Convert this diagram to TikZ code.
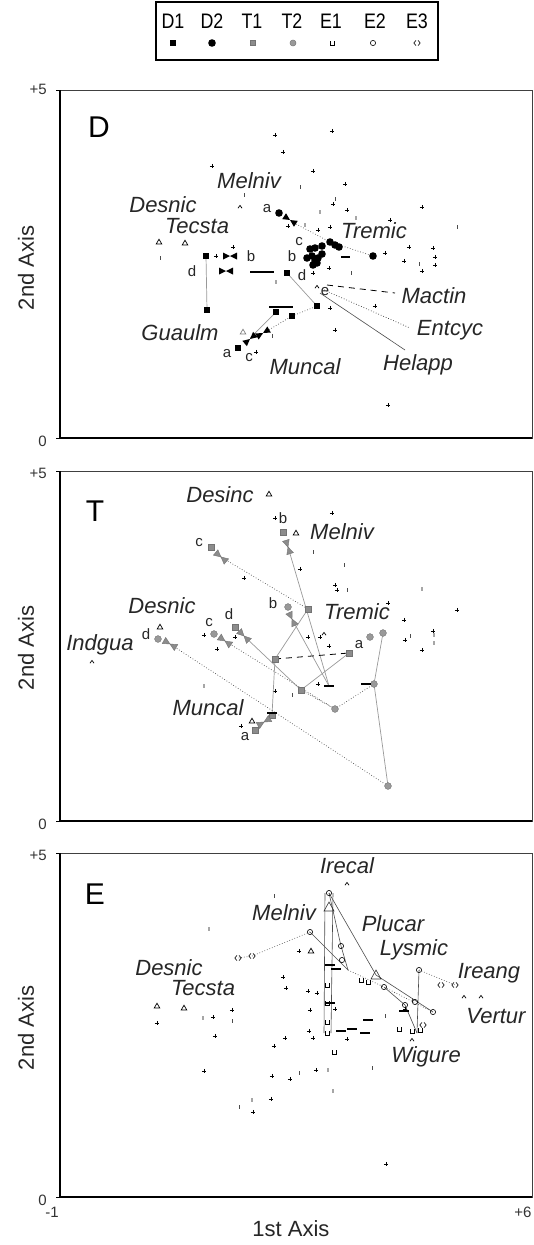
\documentclass[tikz,border=0pt]{standalone}
\usepackage{fontspec}
\setmainfont{Liberation Sans}
\newcommand\lgtxt[1]{\scalebox{0.85}[1]{#1}}
\tikzset{
 lbl/.style={font=\fontsize{22}{24}\selectfont\itshape, inner sep=0pt, text=black!85},
 sml/.style={font=\fontsize{15}{16}\selectfont, inner sep=0pt, text=black!85},
 tkl/.style={font=\fontsize{15}{16}\selectfont, inner sep=0pt, text=black!80},
 axt/.style={font=\fontsize{22}{24}\selectfont, inner sep=0pt, text=black!85},
 pnl/.style={font=\fontsize{30}{32}\selectfont, inner sep=0pt},
 leg/.style={font=\fontsize{21}{22}\selectfont, inner sep=0pt},
 glin/.style={draw=black!40, line width=0.7pt},
 dlin/.style={draw=black!70, line width=0.7pt, dotted},
 dshlin/.style={draw=black, line width=0.8pt, dash pattern=on 6pt off 5pt},
 frm/.style={draw=black!75, line width=0.8pt},
 cr/.pic={\draw[line width=0.7pt] (-2.2,0)--(2.2,0) (0,-2.2)--(0,2.2);},
 btk/.pic={\draw[line width=0.8pt, black!70] (0,-1.8)--(0,1.8);},
 gtk/.pic={\draw[line width=1.3pt, black!35] (0,-2)--(0,2);},
 bsq/.pic={\fill (-3.4,-3.4) rectangle (3.4,3.4);},
 bci/.pic={\fill (0,0) circle (3.8);},
 gsq/.pic={\filldraw[fill=black!45, draw=black!55] (-3,-3) rectangle (3,3);},
 gci/.pic={\filldraw[fill=black!40, draw=black!55] (0,0) circle (3.4);},
 otri/.pic={\draw[line width=0.7pt] (0,-2.8)--(2.8,2)--(-2.8,2)--cycle;},
 gtri/.pic={\draw[line width=0.7pt, black!50] (0,-2.8)--(2.8,2)--(-2.8,2)--cycle;},
 bigtri/.pic={\draw[line width=0.6pt, black!80] (0,-5)--(5,4)--(-5,4)--cycle;},
 crt/.pic={\draw[line width=0.7pt] (-2,1.2)--(0,-1.6)--(2,1.2);},
 bow/.pic={\fill (-7,-3.5)--(0,0)--(-7,3.5)--cycle; \fill (7,-3.5)--(0,0)--(7,3.5)--cycle;},
 gbow/.pic={\filldraw[fill=black!45, draw=black!55] (-7,-3.5)--(0,0)--(-7,3.5)--cycle (7,-3.5)--(0,0)--(7,3.5)--cycle;},
 eone/.pic={\draw[line width=0.6pt] (-2.2,-2)--(-2.2,2)--(2.2,2)--(2.2,-2);},
 etwo/.pic={\draw[line width=0.6pt] (0,0) circle (2.6);},
 ethr/.pic={\draw[line width=0.6pt] (-1,-2.6)--(-3.2,0)--(-1,2.6) (1,-2.6)--(3.2,0)--(1,2.6);},
 bdash/.pic={\draw[line width=1.2pt] (-5,0)--(5,0);},
}
\begin{document}
\begin{tikzpicture}[x=1pt,y=-1pt]
\useasboundingbox (0,0) rectangle (534,1245);

% ---------------- legend ----------------
\draw[line width=1.1pt] (156,2) rectangle (438,60);
\foreach \t/\x in {D1/173,D2/212,T1/252,T2/292,E1/331,E2/375,E3/417}
  \node[leg] (leg\t) at (\x,21) {\lgtxt{\t}};
\pic at (173,43) {bsq};
\pic at (212,43) {bci};
\pic[scale=0.8] at (253,43) {gsq};
\pic[scale=0.9] at (293,43) {gci};
\pic at (332,43) {eone};
\pic at (373,43) {etwo};
\pic at (417,43) {ethr};

% ---------------- frames ----------------
\foreach \top/\bot/\n in {90/438/D,471/821/T,853/1197/E}{
  \draw[frm] (60,\top) rectangle (532,\bot);
  \draw[line width=1.1pt] (60,\top)--(60,\bot)--(532,\bot);
  \draw[line width=0.8pt] (56,\top)--(60,\top) (56,\bot)--(60,\bot);
}
\draw[line width=2pt] (60,1197)--(532,1197);
\node[tkl, anchor=east] (pD) at (47,89) {+5};
\node[tkl, anchor=east] (zD) at (47,441) {0};
\node[tkl, anchor=east] (pT) at (47,473) {+5};
\node[tkl, anchor=east] (zT) at (47,824) {0};
\node[tkl, anchor=east] (pE) at (47,855) {+5};
\node[tkl, anchor=east] (zE) at (47,1200) {0};
\node[tkl] (xm) at (52,1212) {-1};
\node[tkl] (xp) at (523,1212) {+6};
\node[axt] (xt) at (291,1229) {1st Axis};
\node[axt, rotate=90] (yD) at (26,268) {2nd Axis};
\node[axt, rotate=90] (yT) at (26,648) {2nd Axis};
\node[axt, rotate=90] (yE) at (26,1028) {2nd Axis};
\node[pnl] (nD) at (99,127) {D};
\node[pnl] (nT) at (95,511) {T};
\node[pnl] (nE) at (95,894) {E};

% =============== PANEL D ===============
\foreach \x/\y in {275/135,332/131,283/152,212/166,313/171,345/184,333/204,347/210,422/207,288/226,318/230,330/227,390/220,233/247,385/253,409/247,433/248,404/261,435/257,435/265,422/271,329/268,313/273,216/256,330/308,335/330,375/306,388/405,256/352}
  \pic at (\x,\y) {cr};
\foreach \x/\y in {300/187,244/195,335/199,457/227,160/258,351/273,419/264,272/336}
  \pic at (\x,\y) {btk};
\foreach \x/\y in {356/218,276/282,305/225,320/212}
  \pic at (\x,\y) {gtk};
\pic at (159,242) {otri};
\pic at (185,243) {otri};
\pic at (243,332) {gtri};
\pic at (240,207) {crt};
\pic at (317,287) {crt};
% lines
\draw[glin] (206,256)--(207,310);
\draw[glin] (287,273)--(317,306);
\draw[glin] (250,338)--(276,312);
\draw[line width=1.2pt] (250,272)--(274,272);
\draw[line width=1.6pt] (269,307)--(293,307);
\draw[line width=1.2pt] (341,257)--(350,257);
\draw[dlin] (296,224)--(330,242)--(373,256);
\draw[dlin] (262,334)--(292,316)--(317,306);
\draw[dshlin] (327,285)--(395,293);
\draw[dlin, draw=black!80] (324,290)--(410,328);
\draw[draw=black!70, line width=0.6pt] (320,293)--(405,350);
% symbols
\foreach \x/\y in {206/256,207/310,287/273,317/306,276/312,292/316,238/348}
  \pic at (\x,\y) {bsq};
\foreach \x/\y in {373/256,279/213,310/249,315/248,322/246,330/242,335/245,339/247,307/258,312/256,315/261,318/258,322/254,313/265,317/263}
  \pic at (\x,\y) {bci};
\pic at (230,256) {bow};
\pic at (226,271) {bow};
\pic[rotate=-33] at (290,220) {bow};
\pic[rotate=40] at (250,339) {bow};
\pic[rotate=30] at (263,333) {bow};
% labels
\node[lbl] (dMel) at (249,181) {Melniv};
\node[lbl] (dDes) at (163,205) {Desnic};
\node[lbl] (dTec) at (197,226) {Tecsta};
\node[lbl] (dTre) at (374,231) {Tremic};
\node[lbl] (dMac) at (434,296) {Mactin};
\node[lbl] (dEnt) at (450,330) {Entcyc};
\node[lbl] (dHel) at (418,365) {Helapp};
\node[lbl] (dGua) at (180,333) {Guaulm};
\node[lbl] (dMun) at (305,367) {Muncal};
\node[sml] (da1) at (267,209) {a};
\node[sml] (dc1) at (299,242) {c};
\node[sml] (db1) at (292,256) {b};
\node[sml] (db2) at (251,256) {b};
\node[sml] (dd1) at (192,271) {d};
\node[sml] (dd2) at (302,275) {d};
\node[sml] (de1) at (325,292) {e};
\node[sml] (da2) at (227,354) {a};
\node[sml] (dc2) at (249,358) {c};

% =============== PANEL T ===============
\foreach \x/\y in {275/518,332/513,300/569,244/578,335/585,388/603,457/610,404/620,433/631,204/635,235/637,217/649,308/637,329/646,320/637,422/650,405/640,275/691,318/684,241/726,337/590}
  \pic at (\x,\y) {cr};
\foreach \x/\y in {313/552,344/565,347/590,292/695,410/636}
  \pic at (\x,\y) {btk};
\foreach \x/\y in {422/589,204/686,434/635,434/643}
  \pic at (\x,\y) {gtk};
\pic at (269,494) {otri};
\pic at (296,533) {otri};
\pic at (160,627) {otri};
\pic at (252,721) {otri};
\pic at (92,662) {crt};
\pic at (324,634) {crt};
% coordinates
\coordinate (Tc1) at (221,557);
\coordinate (Tb1) at (288,547);
\coordinate (Tb2) at (292,619);
\coordinate (Td2) at (244,636);
\coordinate (Tc2) at (225,641);
\coordinate (Td1) at (170,644);
\coordinate (S1) at (308,609);
\coordinate (S2) at (275,659);
\coordinate (S3) at (349,653);
\coordinate (S4) at (301,690);
\coordinate (C1) at (335,709);
\coordinate (C2) at (374,684);
\coordinate (C3) at (388,786);
\coordinate (Ta) at (383,633);
\coordinate (M1) at (272,715);
\coordinate (M2) at (255,730);
\coordinate (K1) at (329,686);
% lines
\draw[dlin] (Tc1)--(S1);
\draw[glin] (Tb1)--(K1);
\draw[glin] (Tb2)--(K1);
\draw[glin] (S1)--(S2);
\draw[glin] (S2)--(M1)--(M2);
\draw[dshlin] (S2)--(S3);
\draw[glin] (S3)--(S4);
\draw[glin] (Td2)--(S4);
\draw[dlin] (Tc2)--(C1);
\draw[dlin] (C1)--(C2);
\draw[glin] (C2)--(Ta);
\draw[glin] (C2)--(C3);
\draw[dlin] (Td1)--(C3);
\draw[dlin] (S4)--(C1);
% symbols
\foreach \p in {S1,S2,S3,S4,M1,M2}
  \pic at (\p) {gsq};
\pic at (211,547) {gsq};
\pic at (283,532) {gsq};
\pic at (235,627) {gsq};
\foreach \p in {C1,C2,C3,Ta}
  \pic at (\p) {gci};
\pic at (370,637) {gci};
\pic at (288,607) {gci};
\pic at (214,634) {gci};
\pic at (158,639) {gci};
\pic[rotate=-40] at (Tc1) {gbow};
\pic[rotate=-72] at (Tb1) {gbow};
\pic[rotate=-65] at (Tb2) {gbow};
\pic[rotate=-45] at (Td2) {gbow};
\pic[rotate=-35] at (Tc2) {gbow};
\pic[rotate=-30] at (Td1) {gbow};
\pic[rotate=30] at (264,722) {gbow};
\pic at (K1) {bdash};
\pic at (366,684) {bdash};
\pic at (272,713) {bdash};
% labels
\node[lbl] (tDsi) at (220,495) {Desinc};
\node[lbl] (tMel) at (342,532) {Melniv};
\node[lbl] (tDes) at (162,606) {Desnic};
\node[lbl] (tTre) at (357,612) {Tremic};
\node[lbl] (tInd) at (100,645) {Indgua};
\node[lbl] (tMun) at (208,708) {Muncal};
\node[sml] (tb1) at (283,518) {b};
\node[sml] (tc1) at (199,543) {c};
\node[sml] (tb2) at (273,603) {b};
\node[sml] (td2) at (229,614) {d};
\node[sml] (tc2) at (209,623) {c};
\node[sml] (td1) at (146,634) {d};
\node[sml] (ta1) at (359,645) {a};
\node[sml] (ta2) at (245,737) {a};

% =============== PANEL E ===============
\foreach \x/\y in {299/951,283/977,286/988,308/991,317/993,232/1010,213/1017,157/1023,310/1010,335/1009,309/1031,405/1009,215/1036,285/1038,313/1038,347/1039,274/1046,204/1071,272/1076,290/1079,316/1070,271/1099,253/1112,386/1164}
  \pic at (\x,\y) {cr};
\foreach \x/\y in {274/896,232/1021,412/1000,385/1016,299/1073,372/1068,239/1107}
  \pic at (\x,\y) {btk};
\foreach \x/\y in {209/929,203/1018,328/1070,333/1091,252/1100}
  \pic at (\x,\y) {gtk};
\pic at (157,1006) {otri};
\pic at (184,1008) {otri};
\pic at (311,951) {otri};
\pic at (347,884) {crt};
\pic at (464,997) {crt};
\pic at (481,997) {crt};
\pic at (412,1040) {crt};
% coordinates
\coordinate (Et) at (329,893);
\coordinate (Ec) at (310,932);
\coordinate (Ed1) at (252,956);
\coordinate (Ed2) at (238,958);
\coordinate (Ea) at (341,946);
\coordinate (Eb2) at (348,970);
\coordinate (Etr) at (376,975);
\coordinate (Ec2) at (384,987);
\coordinate (Er) at (419,970);
\coordinate (Erb) at (417,1033);
\coordinate (Eg) at (455,985);
\coordinate (Ew) at (433,1012);
% lines
\draw[draw=black!70, line width=0.6pt] (325,893)--(324,1033) (333,893)--(331,1033);
\draw[draw=black!70, line width=0.6pt] (Et)--(Etr)--(Ew);
\draw[draw=black!70, line width=0.6pt] (Et)--(Ea)--(Eb2);
\draw[dlin] (Ec)--(Ed1)--(Ed2);
\draw[draw=black!70, line width=0.6pt] (Ec)--(Eb2);
\draw[dlin] (Eb2)--(Ec2)--(Ew);
\draw[draw=black!70, line width=0.6pt] (Er)--(Erb);
\draw[dlin] (Er)--(Eg);
\draw[draw=black!70, line width=0.6pt] (Ec2)--(405,1005)--(Erb);
% symbols
\foreach \p in {Et,Ec,Ea,Ec2,Er,Ew}
  \pic at (\p) {etwo};
\pic at (405,1005) {etwo};
\pic at (415,1002) {etwo};
\pic at (Etr) {bigtri};
\pic at (329,907) {bigtri};
\pic at (342,960) {etwo};
\foreach \p in {Ed1,Ed2,Eg}
  \pic at (\p) {ethr};
\pic at (441,985) {ethr};
\pic at (423,1025) {ethr};
\foreach \x/\y in {327/985,327/1003,327/1022,327/1033,334/1052,368/982,361/980,412/1031,420/1030,399/1029}
  \pic at (\x,\y) {eone};
\foreach \x/\y in {330/1003,352/1029,341/1031,368/1020,365/1033,330/965,336/969,404/1011}
  \pic at (\x,\y) {bdash};
% labels
\node[lbl] (eIre) at (347,866) {Irecal};
\node[lbl] (eMel) at (284,913) {Melniv};
\node[lbl] (ePlu) at (393,924) {Plucar};
\node[lbl] (eLys) at (414,950) {Lysmic};
\node[lbl] (eIra) at (489,973) {Ireang};
\node[lbl] (eVer) at (496,1016) {Vertur};
\node[lbl] (eDes) at (169,968) {Desnic};
\node[lbl] (eTec) at (203,988) {Tecsta};
\node[lbl] (eWig) at (426,1057) {Wigure};
\end{tikzpicture}
\end{document}
